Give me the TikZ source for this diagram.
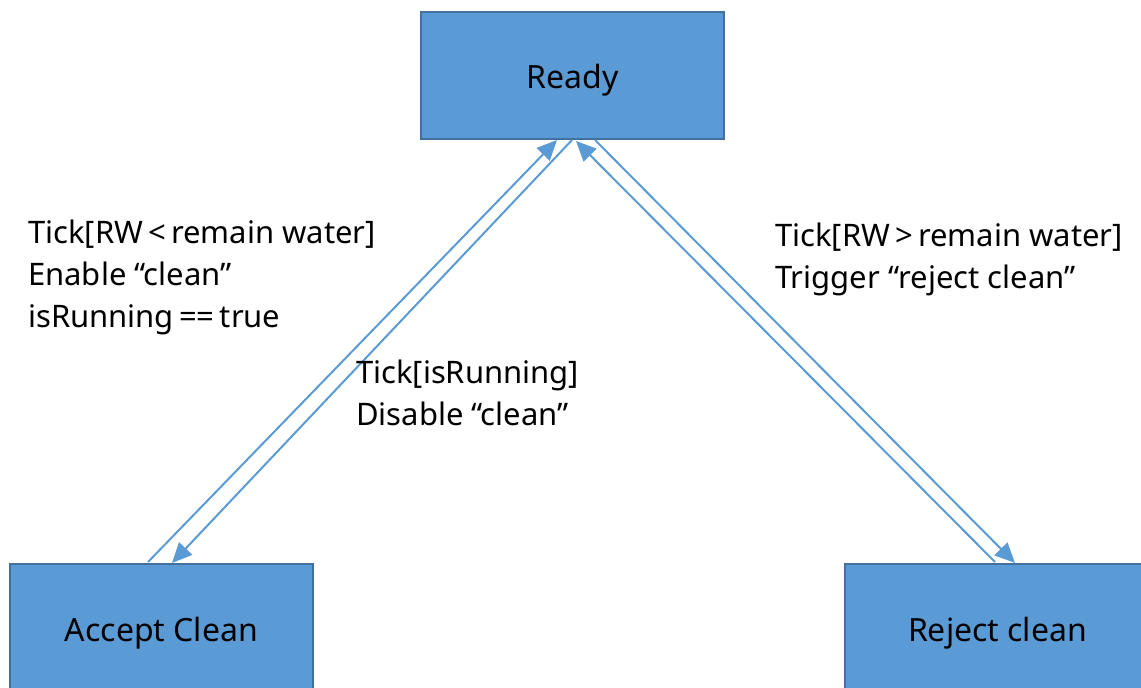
\documentclass[tikz,border=0pt]{standalone}
\usepackage{fontspec}
\setmainfont{Noto Sans}
\usetikzlibrary{arrows.meta}
\definecolor{boxfill}{HTML}{5B9BD5}
\definecolor{boxline}{HTML}{41719C}
\definecolor{arrowcol}{HTML}{5B9BD5}
\tikzset{
  state/.style={draw=boxline, line width=2.5pt, fill=boxfill, inner sep=0pt,
    font=\fontsize{32}{38}\selectfont, text=black},
  conn/.style={draw=arrowcol, line width=2pt, -{Triangle[length=20pt,width=18pt]}},
  lbl/.style={align=left, anchor=base west, inner sep=0pt,
    font=\fontsize{31}{42}\selectfont, text=black}
}
\newcommand{\lowered}[2]{\raisebox{-#1}[\height][\depth]{#2}}
\begin{document}
\begin{tikzpicture}[x=1pt,y=-1pt]
\useasboundingbox (0,0) rectangle (1141,688);
\node[state, minimum width=303pt, minimum height=127pt] (ready) at (572.5,75.5) {\lowered{5pt}{Ready}};
\node[state, minimum width=303pt, minimum height=132pt] (accept) at (161.5,630) {\lowered{3pt}{Accept Clean}};
\node[state, minimum width=305pt, minimum height=132pt] (reject) at (997.5,630) {\lowered{3pt}{Reject clean}};
% connector end points on the box borders
\coordinate (rA) at (557,140);
\coordinate (rB) at (572,140);
\coordinate (rC) at (576,141);
\coordinate (rD) at (595,140);
\coordinate (aA) at (148,562);
\coordinate (aB) at (172,563);
\coordinate (jC) at (995,562);
\coordinate (jD) at (1015,563);
\draw[conn] (aA) -- (rA);
\draw[conn] (rB) -- (aB);
\draw[conn] (jC) -- (rC);
\draw[conn] (rD) -- (jD);
\node[lbl] (l1) at (28,327) {Tick[RW\,<\,remain water]\\Enable “clean”\\isRunning\,==\,true};
\node[lbl] (l2) at (356,425) {Tick[isRunning]\\Disable “clean”};
\node[lbl] (l3) at (775,288) {Tick[RW\,>\,remain water]\\Trigger “reject clean”};
\end{tikzpicture}
\end{document}
